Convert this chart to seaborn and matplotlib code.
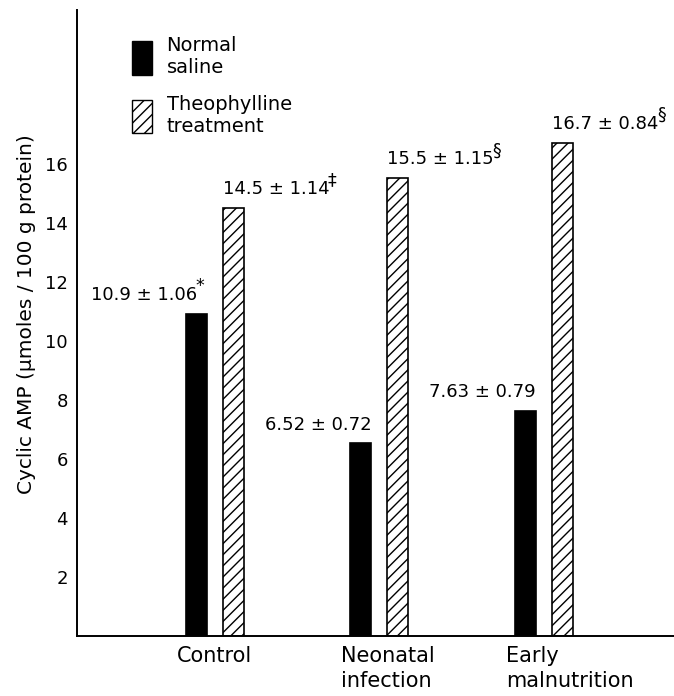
import matplotlib
matplotlib.use("Agg")
import matplotlib.pyplot as plt
import matplotlib.transforms as mtrans
from matplotlib.patches import Patch
import seaborn as sns
import pandas as pd

# ---- data ----
categories = ["Control", "Neonatal\ninfection", "Early\nmalnutrition"]
treatments = ["Normal\nsaline", "Theophylline\ntreatment"]
saline_values = [10.9, 6.52, 7.63]
theo_values = [14.5, 15.5, 16.7]
saline_labels = ["10.9 ± 1.06", "6.52 ± 0.72", "7.63 ± 0.79"]
saline_marks = ["*", "", ""]
theo_labels = ["14.5 ± 1.14", "15.5 ± 1.15", "16.7 ± 0.84"]
theo_marks = ["‡", "§", "§"]
ytick_values = [2, 4, 6, 8, 10, 12, 14, 16]
ylabel = "Cyclic AMP (μmoles / 100 g protein)"

df = pd.DataFrame({
    "group": categories * 2,
    "treatment": [treatments[0]] * 3 + [treatments[1]] * 3,
    "value": saline_values + theo_values,
})

sns.set_style("white")
plt.rcParams["font.family"] = ["DejaVu Sans"]
plt.rcParams["hatch.linewidth"] = 1.0
plt.rcParams["text.color"] = "black"
plt.rcParams["axes.labelcolor"] = "black"
plt.rcParams["xtick.color"] = "black"
plt.rcParams["ytick.color"] = "black"

fig = plt.figure(figsize=(6.74, 6.96), dpi=100)
ax = fig.add_axes([77 / 674, 60 / 696, 1 - 77 / 674, 626 / 696])

sns.barplot(data=df, x="group", y="value", hue="treatment",
            order=categories, hue_order=treatments,
            palette={treatments[0]: "black", treatments[1]: "white"},
            width=0.45, gap=0.43, errorbar=None,
            edgecolor="black", linewidth=1.2, legend=False, ax=ax)

for p in ax.containers[1]:
    p.set_hatch("///")
    p.set_edgecolor("black")


def add_label(p, text, mark, right_aligned):
    x = p.get_x() + (p.get_width() if right_aligned else 0)
    shift = -7 if (right_aligned and mark) else 0
    ann = ax.annotate(text, xy=(x, p.get_height()),
                      xytext=(shift, 10), textcoords="offset points",
                      ha="right" if right_aligned else "left",
                      va="baseline", fontsize=13, color="black")
    if mark:
        ax.annotate(mark, xy=(1.0, 0.5), xycoords=ann,
                    xytext=(-1, 0), textcoords="offset points",
                    ha="left", va="bottom", fontsize=12.5, color="black")


for p, lab, mk in zip(ax.containers[0], saline_labels, saline_marks):
    add_label(p, lab, mk, True)
for p, lab, mk in zip(ax.containers[1], theo_labels, theo_marks):
    add_label(p, lab, mk, False)

ax.set_xlim(-0.837, 2.79)
ax.set_ylim(0, 21.2)
ax.set_yticks(ytick_values)
ax.set_yticklabels([str(v) for v in ytick_values], fontsize=13)
ax.tick_params(axis="y", direction="in", length=6, width=1.1, pad=6.5, colors="black")
ax.tick_params(axis="x", length=0, pad=7, colors="black")
ax.set_xlabel("")
ax.set_ylabel(ylabel, fontsize=14.5, labelpad=0, color="black")
ax.yaxis.set_label_coords(-0.0854, 0.514)
ax.yaxis.label.set_va("center")

offset = mtrans.ScaledTranslation(-0.38, 0, fig.dpi_scale_trans)
for lbl in ax.get_xticklabels():
    lbl.set_fontsize(15)
    lbl.set_ha("left")
    lbl.set_multialignment("left")
    lbl.set_linespacing(1.3)
    lbl.set_color("black")
    lbl.set_transform(lbl.get_transform() + offset)

for s in ["top", "right"]:
    ax.spines[s].set_visible(False)
for s in ["left", "bottom"]:
    ax.spines[s].set_linewidth(1.4)
    ax.spines[s].set_color("black")

handles = [Patch(facecolor="black", edgecolor="black"),
           Patch(facecolor="white", edgecolor="black", hatch="///")]
leg = ax.legend(handles, treatments, loc="upper left",
                bbox_to_anchor=(132 / 674, 1 - 36 / 696), bbox_transform=fig.transFigure,
                frameon=False, borderpad=0, borderaxespad=0,
                handlelength=1.03, handleheight=2.3, handletextpad=0.75,
                labelspacing=0.9, fontsize=14)
for t in leg.get_texts():
    t.set_color("black")

fig.savefig("out.png", dpi=100)
